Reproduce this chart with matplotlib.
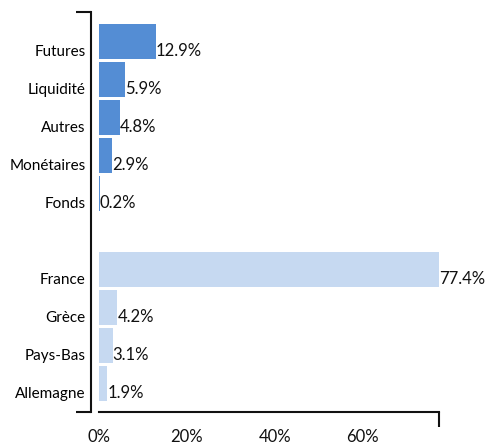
import matplotlib
matplotlib.use("Agg")
import matplotlib.pyplot as plt

plt.rcParams['font.family'] = ['Lato', 'DejaVu Sans']

categories = ["Futures", "Liquidité", "Autres", "Monétaires", "Fonds",
              "France", "Grèce", "Pays-Bas", "Allemagne"]
values = [12.9, 5.9, 4.8, 2.9, 0.2, 77.4, 4.2, 3.1, 1.9]
groups = [0, 0, 0, 0, 0, 1, 1, 1, 1]
group_colors = ["#548DD4", "#C6D9F1"]
xticks = [0, 20, 40, 60]
xtick_labels = ["0%", "20%", "40%", "60%"]

W, H = 487, 443
fig = plt.figure(figsize=(W / 100, H / 100), dpi=100)
ax = fig.add_axes([99 / W, 31 / H, 340 / W, 400 / H])

positions = [i + g for i, g in enumerate(groups)]
colors = [group_colors[g] for g in groups]
ax.barh(positions, values, height=0.92, color=colors)

for p, v in zip(positions, values):
    ax.text(v, p + 0.25, f"{v:.1f}%", va="center", ha="left",
            fontsize=12, color="#111111")

xmax = max(values)
ax.set_xlim(0, xmax)
ylim = (9.75, -0.776)
ax.set_ylim(*ylim)

ax.set_yticks([p + 0.25 for p in positions])
ax.set_yticklabels(categories, color="#111111")
ax.set_yticks(list(ylim), minor=True)
ax.set_xticks(xticks)
ax.set_xticklabels(xtick_labels, color="#111111")
ax.set_xticks([0, xmax], minor=True)

ax.tick_params(axis="y", which="major", length=0, pad=3.5, labelsize=11)
ax.tick_params(axis="x", which="major", length=0, pad=12, labelsize=12)
ax.tick_params(which="minor", length=11, width=1.5, color="#111111")
ax.tick_params(axis="x", which="minor", labelbottom=False)
ax.tick_params(axis="y", which="minor", labelleft=False)

for s in ["top", "right"]:
    ax.spines[s].set_visible(False)
for s in ["left", "bottom"]:
    ax.spines[s].set_linewidth(1.5)
    ax.spines[s].set_color("#111111")
ax.spines["left"].set_position(("outward", 6))

fig.savefig("out.png", dpi=100)
